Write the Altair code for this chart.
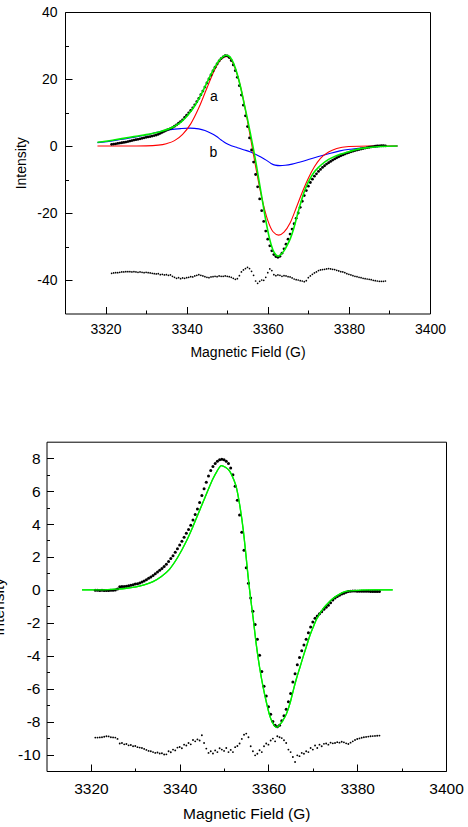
import altair as alt
import pandas as pd

FONT = "Liberation Sans"

# ---------------- page / panel geometry (pixels) ----------------
W, H = 468, 827
TOP_X_RANGE = [65, 430]
TOP_Y_RANGE = [313.5, 12]
BOT_X_RANGE = [46.5, 446]
BOT_Y_RANGE = [771, 441.7]

# ---------------- axes / ticks ----------------
X_DOMAIN = [3310, 3400]
X_MAJOR = [3320, 3340, 3360, 3380, 3400]
X_MINOR = [3330, 3350, 3370, 3390]

TOP_Y_DOMAIN = [-50, 40]
TOP_Y_MAJOR = [-40, -20, 0, 20, 40]
TOP_Y_MINOR = [-30, -10, 10, 30]

BOT_Y_DOMAIN = [-11, 9]
BOT_Y_MAJOR = [-10, -8, -6, -4, -2, 0, 2, 4, 6, 8]
BOT_Y_MINOR = [-9, -7, -5, -3, -1, 1, 3, 5, 7]

# component labels in the upper panel
LABEL_TEXT = ["a", "b"]
LABEL_FIELD = [3346.7, 3346.6]
LABEL_INT = [14.5, -2.2]

# ---------------- upper panel data ----------------
# experimental spectrum, sampled every 0.5 G starting at 3321.5 G
TOP_START = 3321.5
STEP = 0.5
top_exp = [
    0.50, 0.58, 0.66, 0.76, 0.86, 0.96, 1.06, 1.18, 1.32, 1.46,
    1.62, 1.76, 1.88, 2.00, 2.14, 2.28, 2.44, 2.58, 2.70, 2.82,
    2.96, 3.10, 3.28, 3.48, 3.78, 4.10, 4.40, 4.70, 4.95, 5.20,
    5.50, 5.90, 6.30, 6.80, 7.30, 7.80, 8.50, 9.20, 9.90, 10.60,
    11.40, 12.30, 13.20, 14.20, 15.30, 16.40, 17.60, 18.80, 20.00, 21.20,
    22.40, 23.50, 24.50, 25.40, 26.10, 26.60, 26.95, 26.90, 26.40, 25.50,
    24.20, 22.50, 20.50, 18.00, 15.20, 12.20, 9.00, 5.80, 2.40, -1.20,
    -4.80, -8.50, -12.20, -15.80, -19.30, -22.50, -25.40, -27.80, -29.80, -31.30,
    -32.40, -33.00, -33.20, -32.90, -32.00, -30.70, -29.30, -27.80, -26.30, -24.80,
    -23.20, -21.60, -20.00, -18.30, -16.50, -14.80, -13.30, -12.00, -10.90, -9.90,
    -9.00, -8.30, -7.60, -7.00, -6.40, -5.90, -5.40, -5.00, -4.60, -4.20,
    -3.85, -3.50, -3.20, -2.90, -2.65, -2.40, -2.15, -1.95, -1.75, -1.55,
    -1.35, -1.20, -1.05, -0.90, -0.75, -0.62, -0.50, -0.38, -0.27, -0.17,
    -0.08, 0.00, 0.05, 0.08, 0.08, 0.05,
]
# residual (experiment - fit, offset), same sampling
top_res = [
    -38.0, -37.9, -37.8, -37.8, -37.7, -37.6, -37.6, -37.5, -37.5, -37.5,
    -37.6, -37.5, -37.6, -37.7, -37.6, -37.7, -37.8, -37.7, -37.8, -37.9,
    -38.0, -38.1, -38.2, -38.1, -38.4, -38.3, -38.5, -38.4, -38.6, -38.5,
    -38.9, -39.2, -39.5, -39.3, -39.6, -39.4, -39.5, -39.3, -39.2, -39.0,
    -39.1, -38.8, -38.6, -38.4, -38.6, -38.8, -39.0, -39.2, -39.3, -39.1,
    -39.0, -38.9, -39.0, -38.8, -38.9, -38.9, -38.8, -38.9, -39.0, -39.2,
    -39.5, -39.8, -39.6, -38.7, -37.6, -37.0, -36.6, -36.2, -36.6, -37.4,
    -38.6, -40.3, -41.0, -40.4, -40.0, -40.1, -39.2, -37.8, -36.7, -37.2,
    -38.4, -38.7, -38.5, -38.6, -38.9, -38.7, -38.8, -39.0, -39.1, -39.4,
    -39.7, -39.9, -40.0, -40.2, -40.3, -40.5, -40.2, -39.3, -38.8, -38.3,
    -37.9, -37.6, -37.2, -37.0, -36.9, -36.8, -36.7, -36.6, -36.7, -36.8,
    -36.9, -37.1, -37.3, -37.5, -37.6, -37.8, -38.1, -38.3, -38.5, -38.7,
    -38.9, -39.0, -39.2, -39.3, -39.5, -39.6, -39.7, -39.8, -39.9, -40.1,
    -40.2, -40.3, -40.4, -40.4, -40.4, -40.3,
]
# component a (red)
red_field = [3318, 3325, 3330, 3333, 3335, 3337, 3339, 3341, 3343, 3345, 3347, 3348.5,
             3349.8, 3351, 3352.5, 3354, 3355, 3356.1, 3357.2, 3358.5, 3360, 3361.3,
             3362.7, 3364, 3365.5, 3367, 3368.5, 3370, 3371.5, 3373, 3375, 3377, 3380,
             3385, 3392]
red_int = [0.0, 0.0, 0.05, 0.25, 0.7, 1.6, 3.5, 6.6, 11.4, 17.3, 23.0, 25.9,
           26.7, 25.6, 21.2, 13.8, 7.4, 0.0, -7.4, -15.3, -22.2, -25.6,
           -26.6, -25.7, -23.0, -18.5, -13.8, -9.6, -6.2, -3.7, -1.8, -0.75, -0.17,
           0.0, 0.0]
# component b (blue)
blue_field = [3318, 3322, 3326, 3330, 3333, 3336, 3338.5, 3340.8, 3343, 3344.5, 3346,
              3347.3, 3348.5, 3349.7, 3351, 3352.5, 3354, 3355.6, 3357, 3358.3, 3359.7,
              3360.8, 3361.8, 3363, 3364.3, 3366, 3368, 3370, 3372.5, 3375, 3377.8,
              3380.5, 3383.5, 3386.5, 3389, 3392]
blue_int = [1.0, 1.6, 2.4, 3.3, 4.2, 4.9, 5.2, 5.35, 5.1, 4.6, 3.8,
            2.9, 1.8, 0.8, 0.1, -0.5, -1.1, -1.7, -2.5, -3.3, -4.3,
            -5.2, -5.7, -5.85, -5.75, -5.4, -4.75, -4.05, -3.15, -2.3, -1.45,
            -0.95, -0.55, -0.25, -0.08, 0.0]
# total fit (green)
green_field = [3318, 3320, 3322, 3324, 3326, 3328, 3330, 3332, 3334, 3336, 3337, 3338,
               3339, 3340, 3341, 3342, 3343, 3344, 3345, 3346, 3347, 3348, 3349, 3349.7,
               3350.5, 3351.2, 3352, 3352.8, 3353.5, 3354.2, 3355, 3355.7, 3356.4, 3357.2,
               3358, 3358.8, 3359.6, 3360.4, 3361.2, 3362, 3362.6, 3363.3, 3364, 3364.8,
               3365.6, 3366.4, 3367.2, 3368, 3368.8, 3369.6, 3370.5, 3371.5, 3372.5,
               3373.5, 3375, 3376.5, 3378, 3380, 3382, 3385, 3388, 3392]
green_int = [1.1, 1.4, 1.8, 2.2, 2.6, 3.0, 3.4, 3.9, 4.5, 5.3, 5.9, 6.6,
             7.6, 8.8, 10.3, 12.0, 14.1, 16.4, 18.9, 21.4, 23.6, 25.5, 26.7, 27.1,
             26.8, 25.6, 23.3, 20.0, 16.5, 12.5, 8.0, 3.8, -0.5, -5.8,
             -11.5, -17.2, -22.8, -27.5, -30.8, -32.5, -32.9, -32.3, -31.3, -29.6,
             -27.5, -24.6, -21.0, -17.5, -14.3, -11.8, -9.6, -7.7, -6.4,
             -5.3, -4.0, -3.1, -2.4, -1.7, -1.0, -0.45, -0.15, 0.0]

# ---------------- lower panel data ----------------
BOT_START = 3321.0
bot_exp = [
    -0.02, -0.02, -0.03, -0.02, -0.03, -0.04, -0.03, -0.02, -0.02, -0.01,
    0.05, 0.19, 0.20, 0.21, 0.22, 0.25, 0.28, 0.31, 0.35, 0.38,
    0.42, 0.48, 0.54, 0.62, 0.70, 0.78, 0.88, 0.98, 1.08, 1.20,
    1.30, 1.42, 1.56, 1.72, 1.90, 2.08, 2.28, 2.50, 2.72, 2.96,
    3.20, 3.44, 3.66, 3.92, 4.24, 4.58, 4.92, 5.30, 5.74, 6.14,
    6.54, 6.92, 7.25, 7.50, 7.68, 7.82, 7.90, 7.93, 7.90, 7.82,
    7.68, 7.40, 7.00, 6.30, 5.45, 4.55, 3.50, 2.40, 1.35, 0.40,
    -0.50, -1.30, -2.10, -3.00, -3.97, -4.95, -5.85, -6.45, -7.10, -7.55,
    -8.00, -8.22, -8.32, -8.22, -7.95, -7.65, -7.25, -6.80, -6.30, -5.60,
    -5.10, -4.55, -4.10, -3.70, -3.35, -3.00, -2.60, -2.25, -1.95, -1.72,
    -1.58, -1.45, -1.33, -1.18, -1.05, -0.93, -0.78, -0.62, -0.50, -0.40,
    -0.32, -0.25, -0.20, -0.14, -0.10, -0.08, -0.07, -0.07, -0.08, -0.08,
    -0.08, -0.09, -0.09, -0.09, -0.10, -0.10, -0.10, -0.10, -0.10,
]
bot_res = [
    -8.97, -8.97, -8.96, -8.95, -8.92, -8.89, -8.90, -8.95, -8.96, -8.97,
    -9.05, -9.33, -9.30, -9.38, -9.36, -9.44, -9.42, -9.50, -9.48, -9.55,
    -9.58, -9.60, -9.66, -9.72, -9.78, -9.80, -9.85, -9.90, -9.88, -9.94,
    -9.92, -10.00, -9.99, -9.80, -9.86, -9.70, -9.75, -9.58, -9.54, -9.62,
    -9.40, -9.45, -9.30, -9.38, -9.12, -9.20, -9.08, -9.15, -8.83, -9.30,
    -9.64, -9.90, -9.80, -9.94, -9.75, -9.85, -9.62, -9.70, -9.78, -9.60,
    -9.85, -9.72, -9.85, -9.55, -9.48, -9.33, -9.05, -8.80, -8.73, -8.95,
    -9.50, -9.80, -10.05, -9.95, -9.74, -9.85, -9.50, -9.33, -9.40, -9.15,
    -9.03, -9.20, -8.89, -8.95, -9.00, -9.13, -9.30, -9.70, -9.85, -10.15,
    -10.45, -10.05, -10.10, -9.90, -9.95, -9.80, -9.85, -9.60, -9.70, -9.45,
    -9.60, -9.40, -9.50, -9.35, -9.33, -9.40, -9.28, -9.32, -9.30, -9.25,
    -9.28, -9.22, -9.26, -9.32, -9.36, -9.28, -9.20, -9.12, -9.06, -9.02,
    -8.98, -8.95, -8.93, -8.91, -8.89, -8.88, -8.87, -8.86, -8.85,
]
bgreen_field = [3318.0, 3322.0, 3326.0, 3328.0, 3330.2, 3332.0, 3334.0, 3335.8, 3337.7,
                3339.5, 3341.5, 3343.0, 3344.3, 3345.3, 3346.3, 3347.5, 3348.4, 3349.4,
                3350.3, 3351.3, 3352.1, 3352.8, 3353.5, 3354.3, 3354.9, 3355.4, 3356.0,
                3356.5, 3357.3, 3358.0, 3358.8, 3359.6, 3360.3, 3361.0, 3361.8, 3362.5,
                3363.2, 3364.1, 3365.0, 3365.6, 3366.3, 3367.1, 3368.0, 3368.6, 3369.3,
                3370.1, 3370.8, 3371.6, 3372.3, 3373.1, 3374.2, 3375.3, 3376.8, 3378.3,
                3381.0, 3384.0, 3388.0]
bgreen_int = [0.0, 0.0, 0.05, 0.1, 0.18, 0.3, 0.5, 0.8, 1.25,
              1.95, 2.95, 3.85, 4.7, 5.35, 6.0, 6.75, 7.2, 7.55,
              7.45, 7.2, 6.75, 6.2, 5.2, 3.7, 2.2, 0.85, -0.55,
              -1.6, -3.4, -4.7, -5.9, -6.9, -7.65, -8.1, -8.35, -8.2,
              -7.95, -7.5, -6.75, -6.1, -5.4, -4.7, -3.9, -3.4, -2.8,
              -2.25, -1.8, -1.43, -1.15, -0.9, -0.6, -0.38, -0.15, -0.06,
              -0.02, 0.0, 0.0]


def sampled(start, step, values):
    return pd.DataFrame({"G": [start + i * step for i in range(len(values))], "I": values})


top_exp_df = sampled(TOP_START, STEP, top_exp)
top_res_df = sampled(TOP_START, STEP, top_res)
red_df = pd.DataFrame({"G": red_field, "I": red_int})
blue_df = pd.DataFrame({"G": blue_field, "I": blue_int})
green_df = pd.DataFrame({"G": green_field, "I": green_int})
lab_df = pd.DataFrame({"G": LABEL_FIELD, "I": LABEL_INT, "t": LABEL_TEXT})

bot_exp_df = sampled(BOT_START, STEP, bot_exp)
bot_res_df = sampled(BOT_START, STEP, bot_res)
bgreen_df = pd.DataFrame({"G": bgreen_field, "I": bgreen_int})


# ---------------- axis helpers ----------------
def major_x(line_y, fs, pad, title_y):
    return alt.Axis(orient="bottom", offset=line_y - H, values=X_MAJOR, tickSize=7,
                    tickColor="black", tickWidth=1, labelPadding=pad, labelFontSize=fs,
                    labelFont=FONT, labelColor="black", labelExpr="datum.value + ''",
                    labelFlush=False, labelOverlap=False, title="Magnetic Field (G)",
                    titleFontSize=fs, titleFont=FONT, titleColor="black",
                    titleFontWeight="normal", titleY=title_y, titleBaseline="middle",
                    domain=False, grid=False)


def major_y(line_x, fs, pad, title_x, values):
    return alt.Axis(orient="left", offset=-line_x, values=values, tickSize=7,
                    tickColor="black", tickWidth=1, labelPadding=pad, labelFontSize=fs,
                    labelFont=FONT, labelColor="black", labelExpr="datum.value + ''",
                    labelFlush=False, labelOverlap=False, title="Intensity",
                    titleFontSize=fs, titleFont=FONT, titleColor="black",
                    titleFontWeight="normal", titleX=title_x, titleBaseline="middle",
                    domain=False, grid=False)


def minor_x(line_y, size):
    return alt.Axis(orient="bottom", offset=line_y - H, values=X_MINOR, tickSize=size,
                    tickColor="black", tickWidth=1, labels=False, title=None,
                    domain=False, grid=False)


def minor_y(line_x, size, values):
    return alt.Axis(orient="left", offset=-line_x, values=values, tickSize=size,
                    tickColor="black", tickWidth=1, labels=False, title=None,
                    domain=False, grid=False)


def frame(orient, pos):
    off = {"bottom": pos - H, "top": -pos, "left": -pos, "right": pos - W}[orient]
    return alt.Axis(orient=orient, offset=off, ticks=False, labels=False, title=None,
                    domain=True, domainColor="black", domainWidth=1, grid=False)


def xe(rng, axis):
    return alt.X("G:Q", scale=alt.Scale(domain=X_DOMAIN, range=rng, nice=False, zero=False),
                 axis=axis)


def ye(dom, rng, axis):
    return alt.Y("I:Q", scale=alt.Scale(domain=dom, range=rng, nice=False, zero=False),
                 axis=axis)


# ---------------- upper panel layers ----------------
tx, ty = TOP_X_RANGE, TOP_Y_RANGE
t_line_x = tx[0] + 7
t_line_y = ty[0] - 7
top_layers = [
    alt.Chart(top_res_df).mark_circle(size=3, color="black", opacity=1).encode(
        x=xe(tx, major_x(t_line_y, 14, 9, 46.3)),
        y=ye(TOP_Y_DOMAIN, ty, major_y(t_line_x, 14, 8, -50.5, TOP_Y_MAJOR))),
    alt.Chart(blue_df).mark_line(color="#0000ff", strokeWidth=1.1, interpolate="monotone").encode(
        x=xe(tx, minor_x(ty[0] - 3.5, 3.5)),
        y=ye(TOP_Y_DOMAIN, ty, minor_y(tx[0] + 3.5, 3.5, TOP_Y_MINOR))),
    alt.Chart(red_df).mark_line(color="#ff0000", strokeWidth=1.1, interpolate="monotone").encode(
        x=xe(tx, frame("bottom", ty[0])), y=ye(TOP_Y_DOMAIN, ty, frame("left", tx[0]))),
    alt.Chart(top_exp_df).mark_circle(size=8, color="black", opacity=1).encode(
        x=xe(tx, frame("top", ty[1])), y=ye(TOP_Y_DOMAIN, ty, frame("right", tx[1]))),
    alt.Chart(green_df).mark_line(color="#00ee00", strokeWidth=1.6, interpolate="monotone").encode(
        x=xe(tx, None), y=ye(TOP_Y_DOMAIN, ty, None)),
    alt.Chart(lab_df).mark_text(font=FONT, fontSize=14, color="black", align="center",
                                baseline="middle").encode(
        x=xe(tx, None), y=ye(TOP_Y_DOMAIN, ty, None), text="t:N"),
]

# ---------------- lower panel layers ----------------
bx, by = BOT_X_RANGE, BOT_Y_RANGE
b_line_x = bx[0] + 7
b_line_y = by[0] - 7
bottom_layers = [
    alt.Chart(bot_res_df).mark_circle(size=3.5, color="black", opacity=1).encode(
        x=xe(bx, major_x(b_line_y, 15.5, 10, 49.8)),
        y=ye(BOT_Y_DOMAIN, by, major_y(b_line_x, 15.5, 6.5, -54.7, BOT_Y_MAJOR))),
    alt.Chart(bgreen_df).mark_line(color="#00ee00", strokeWidth=1.3, interpolate="monotone").encode(
        x=xe(bx, minor_x(by[0] - 3, 3)),
        y=ye(BOT_Y_DOMAIN, by, minor_y(bx[0] + 3, 3, BOT_Y_MINOR))),
    alt.Chart(bot_exp_df).mark_circle(size=9, color="black", opacity=1).encode(
        x=xe(bx, frame("bottom", by[0])), y=ye(BOT_Y_DOMAIN, by, frame("left", bx[0]))),
    alt.Chart(bgreen_df).mark_line(color="#00ee00", strokeWidth=1.3, interpolate="monotone").encode(
        x=xe(bx, frame("top", by[1])), y=ye(BOT_Y_DOMAIN, by, frame("right", bx[1]))),
]

chart = alt.layer(*top_layers, *bottom_layers).resolve_scale(
    x="independent", y="independent"
).resolve_axis(
    x="independent", y="independent"
).properties(
    width=W, height=H, padding=0, autosize=alt.AutoSizeParams(type="none")
).configure_view(strokeOpacity=0)

chart.save("out.html", embed_options={"renderer": "svg", "actions": False})
